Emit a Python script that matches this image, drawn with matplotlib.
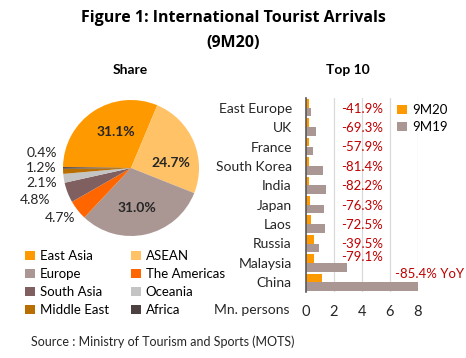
import matplotlib.pyplot as plt
from matplotlib.patches import Patch

plt.rcParams['font.family'] = ['Lato', 'DejaVu Sans']

# pie data: share of arrivals by region (9M20)
regions = ['East Asia', 'ASEAN', 'Europe', 'The Americas', 'South Asia', 'Oceania', 'Middle East', 'Africa']
shares = [31.1, 24.7, 31.0, 4.7, 4.8, 2.1, 1.2, 0.4]
region_colors = ['#FF9900', '#FFC266', '#AA9793', '#FF6600', '#7F5F5F', '#C4C4C4', '#B86E00', '#4D4040']

# bar data: top 10 markets, million persons
countries = ['East Europe', 'UK', 'France', 'South Korea', 'India', 'Japan', 'Laos', 'Russia', 'Malaysia', 'China']
arr_9m20 = [0.22, 0.23, 0.22, 0.23, 0.26, 0.31, 0.38, 0.57, 0.62, 1.17]
arr_9m19 = [0.38, 0.74, 0.52, 1.24, 1.45, 1.31, 1.38, 0.95, 2.95, 8.0]
yoy = [-41.9, -69.3, -57.9, -81.4, -82.2, -76.3, -72.5, -39.5, -79.1, -85.4]

W, H = 466, 358
fig = plt.figure(figsize=(W / 100, H / 100), dpi=100)

title_font = ['Open Sans', 'DejaVu Sans']
fig.text(0.5, 1 - 18 / H, 'Figure 1: International Tourist Arrivals', ha='center', va='center',
         fontsize=11.5, fontweight='bold', family=title_font)
fig.text(0.5, 1 - 43 / H, '(9M20)', ha='center', va='center', fontsize=11.5, fontweight='bold',
         family=title_font)
fig.text(130 / W, 1 - 70 / H, 'Share', ha='center', va='center', fontsize=10, fontweight='bold')
fig.text(348 / W, 1 - 70 / H, 'Top 10', ha='center', va='center', fontsize=10, fontweight='bold')

# ---- pie ----
cx, cy, r = 131, 168, 68
axp = fig.add_axes([(cx - r) / W, 1 - (cy + r) / H, 2 * r / W, 2 * r / H])
wedges, _ = axp.pie(shares, colors=region_colors, startangle=179.2, counterclock=False,
                    radius=1, wedgeprops=dict(linewidth=0))
axp.set_xlim(-1, 1)
axp.set_ylim(-1, 1)
axp.set_aspect('equal')

# label positions in pie units (Excel-style manual placement)
lab_pos = [(-0.22, 0.53, 'center'), (0.59, 0.07, 'center'), (0.08, -0.59, 'center'),
           (-0.82, -0.74, 'right'), (-1.18, -0.47, 'right'), (-1.09, -0.22, 'right'),
           (-1.09, 0.0, 'right'), (-1.09, 0.22, 'right')]
for i, (v, (x, y, ha)) in enumerate(zip(shares, lab_pos)):
    axp.text(x, y, f'{v:.1f}%', ha=ha, va='center', fontsize=10,
             fontweight='bold' if i < 3 else 'normal', color='#262626', clip_on=False)

handles = [Patch(facecolor=c, edgecolor='none', label=l) for l, c in zip(regions, region_colors)]
order = [0, 2, 4, 6, 1, 3, 5, 7]
fig.legend([handles[i] for i in order], [regions[i] for i in order], ncol=2,
           loc='upper left', bbox_to_anchor=(20 / W, 1 - 245 / H), frameon=False,
           fontsize=9.5, handlelength=0.7, handleheight=0.7, handletextpad=0.4,
           columnspacing=1.7, labelspacing=0.45, borderaxespad=0)

# ---- bars ----
axb = fig.add_axes([305.7 / W, 1 - 292 / H, 112 / W, 194 / H])
ypos = list(range(len(countries)))
h = 0.45
axb.barh([y - h / 2 for y in ypos], arr_9m20, height=h, color='#FF9900', label='9M20', zorder=3)
axb.barh([y + h / 2 for y in ypos], arr_9m19, height=h, color='#AA9793', label='9M19', zorder=3)
axb.set_xlim(0, 8)
axb.set_ylim(9.5, -0.5)
axb.set_xticks([0, 2, 4, 6, 8])
axb.set_yticks(ypos)
axb.set_yticklabels(countries, fontsize=10, color='#262626')
axb.tick_params(axis='both', length=0)
axb.tick_params(axis='y', pad=10)
axb.tick_params(axis='x', pad=9, labelsize=10.5, labelcolor='#262626')
axb.grid(axis='x', color='#D9D9D9', linewidth=0.9, zorder=0)
for s in ['top', 'right', 'bottom']:
    axb.spines[s].set_visible(False)
axb.spines['left'].set_color('#595959')
axb.spines['left'].set_linewidth(1.2)
axb.spines['left'].set_zorder(4)

for i, v in enumerate(yoy):
    if countries[i] == 'China':
        axb.text(6.4, i - 0.45, f'{v:.1f}% YoY', ha='left', va='center', fontsize=9.5,
                 color='#C00000', clip_on=False)
    else:
        axb.text(2.55, i + 0.05 if i < 8 else i - 0.3, f'{v:.1f}%', ha='left', va='center',
                 fontsize=9.5, color='#C00000', clip_on=False)

axb.legend(loc='upper left', bbox_to_anchor=(392 / W, 1 - 99 / H), bbox_transform=fig.transFigure,
           frameon=False, fontsize=9.5, handlelength=0.7, handleheight=0.7, handletextpad=0.4,
           labelspacing=0.35, borderaxespad=0)

fig.text(252 / W, 1 - 310 / H, 'Mn. persons', ha='center', va='center', fontsize=10, color='#262626')
fig.text(31 / W, 1 - 342 / H, 'Source : Ministry of Tourism and Sports (MOTS)', ha='left', va='center',
         fontsize=9, color='#262626')

fig.savefig('out.png', dpi=100)
